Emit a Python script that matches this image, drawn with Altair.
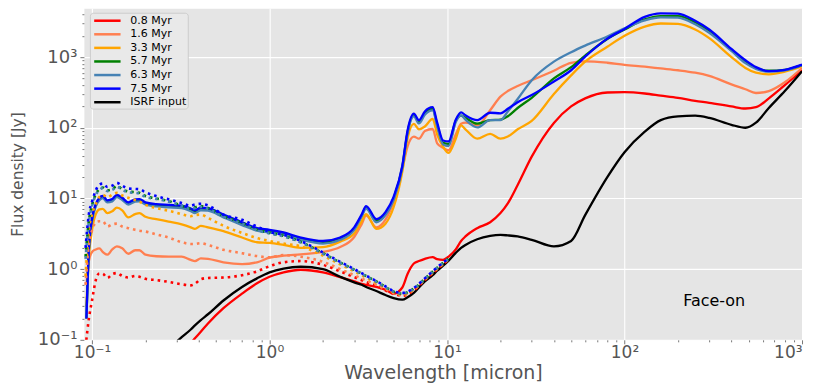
import altair as alt
import pandas as pd

series_names = ["0.8 Myr", "1.6 Myr", "3.3 Myr", "5.7 Myr", "6.3 Myr", "7.5 Myr", "ISRF input"]
series_colors = ["#ff0000", "#ff7f50", "#ffa500", "#008000", "#4682b4", "#0000ff", "#000000"]

# ---- solid curves (common wavelength grid, micron) ----
wavelength = [0.093, 0.096, 0.1, 0.105, 0.11, 0.115, 0.122, 0.13, 0.138, 0.148,
              0.16, 0.175, 0.185, 0.2, 0.23, 0.27, 0.32, 0.36, 0.38, 0.41,
              0.45, 0.55, 0.7, 0.85, 1.0, 1.2, 1.5, 2.0, 2.5, 3.0,
              3.3, 3.5, 4.0, 4.5, 5.0, 5.6, 6.0, 6.5, 6.95, 7.5,
              8.3, 8.8, 9.5, 10.2, 11.2, 12.0, 12.7, 14.8, 17.5, 20,
              22, 25, 30, 40, 50, 60, 80, 100, 130, 160,
              200, 250, 300, 400, 480, 550, 650, 800, 1000]

flux_08 = [None, None, None, None, None, None, None, None, None, None,
           None, None, None, None, None, None, 0.06, 0.09, 0.105, 0.13,
           0.17, 0.28, 0.45, 0.63, 0.78, 0.9, 0.98, 0.9, 0.77, 0.67,
           0.62, 0.6, 0.56, 0.51, 0.45, 0.55, 0.86, 1.2, 1.3, 1.4,
           1.48, 1.38, 1.35, 1.5, 1.9, 2.5, 2.9, 3.8, 4.6, 6.2,
           8.5, 15.5, 39, 117, 200, 260, 315, 318, 305, 285,
           265, 240, 225, 200, 187, 195, 260, 400, 650]

flux_16 = [0.6, 1.3, 1.75, 1.9, 1.97, 1.75, 1.6, 1.9, 2.1, 1.97,
           1.65, 1.85, 1.85, 1.6, 1.52, 1.5, 1.5, 1.35, 1.3, 1.42,
           1.4, 1.25, 1.18, 1.25, 1.45, 1.55, 1.62, 1.75, 2.05, 2.85,
           4.3, 5.7, 3.9, 5.0, 9.0, 26, 55, 75, 70, 90,
           96, 60, 52, 48, 80, 114, 118, 108, 177, 275,
           330, 390, 470, 640, 830, 870, 830, 775, 730, 690,
           650, 600, 540, 410, 350, 310, 330, 440, 700]

flux_33 = [0.3, 1.5, 3.6, 6.0, 7.0, 7.1, 6.2, 6.6, 7.4, 6.8,
           5.4, 6.0, 6.2, 5.5, 5.1, 4.7, 4.3, 3.9, 3.7, 4.1,
           3.9, 3.45, 2.8, 2.4, 2.35, 2.2, 2.0, 2.05, 2.45, 3.2,
           4.7, 6.0, 3.7, 4.4, 7.5, 24, 72, 113, 95, 104,
           133, 80, 54, 44, 70, 108, 95, 70, 82, 70,
           75, 95, 125, 300, 550, 860, 1400, 2000, 2700, 2980,
           2950, 2450, 1850, 1000, 700, 600, 570, 620, 740]

flux_57 = [0.2, 1.9, 5.0, 8.0, 9.8, 10.5, 9.1, 9.5, 10.8, 9.9,
           8.5, 9.4, 9.5, 8.5, 8.0, 7.8, 7.6, 6.9, 6.5, 7.1,
           7.0, 5.7, 4.4, 3.65, 3.45, 3.15, 2.7, 2.4, 2.7, 3.75,
           5.65, 7.5, 4.85, 6.1, 10.0, 28, 88, 152, 120, 162,
           185, 110, 61, 59, 125, 148, 138, 114, 128, 130,
           145, 190, 265, 500, 720, 1050, 1800, 2450, 3400, 3800,
           3800, 3100, 2300, 1250, 850, 700, 640, 660, 770]

flux_63 = [0.2, 1.8, 4.8, 7.7, 9.4, 10.1, 8.8, 9.1, 10.4, 9.5,
           8.2, 9.0, 9.1, 8.2, 7.7, 7.5, 7.3, 6.6, 6.2, 6.8,
           6.7, 5.4, 4.2, 3.5, 3.3, 3.05, 2.6, 2.3, 2.6, 3.6,
           5.5, 7.2, 4.6, 5.8, 9.5, 27, 85, 145, 115, 153,
           176, 105, 58, 55, 120, 150, 130, 101, 128, 128,
           170, 255, 470, 860, 1170, 1450, 1950, 2550, 3300, 3650,
           3600, 2900, 2200, 1220, 820, 680, 620, 650, 770]

flux_75 = [0.2, 2.0, 5.2, 8.3, 10.2, 10.9, 9.4, 9.8, 11.2, 10.2,
           8.8, 9.7, 9.8, 8.8, 8.3, 8.1, 7.9, 7.2, 6.8, 7.4,
           7.3, 5.9, 4.6, 3.8, 3.6, 3.3, 2.8, 2.5, 2.8, 3.9,
           5.9, 7.8, 5.1, 6.4, 10.5, 29, 93, 158, 128, 170,
           195, 118, 66, 64, 130, 165, 150, 128, 163, 160,
           185, 230, 290, 450, 650, 1010, 1820, 2500, 3700, 4150,
           4100, 3250, 2450, 1300, 900, 720, 630, 660, 780]

flux_isrf = [None, None, None, None, None, None, None, None, None, None,
             None, None, None, None, None, 0.074, 0.109, 0.14, 0.16, 0.19,
             0.23, 0.36, 0.56, 0.74, 0.9, 1.02, 1.08, 1.0, 0.78, 0.65,
             0.6, 0.56, 0.49, 0.43, 0.39, 0.37, 0.4, 0.46, 0.55, 0.67,
             0.82, 0.95, 1.12, 1.32, 1.7, 2.0, 2.2, 2.65, 2.95, 3.05,
             3.0, 2.9, 2.6, 2.1, 2.5, 5.8, 20, 45, 88, 128,
             145, 148, 138, 110, 100, 118, 190, 330, 630]

# ---- dotted curves (short wavelengths) ----
wavelength_dotted = [0.092, 0.096, 0.1, 0.105, 0.11, 0.115, 0.122, 0.13, 0.138, 0.148,
                     0.16, 0.175, 0.185, 0.2, 0.23, 0.27, 0.32, 0.36, 0.38, 0.41,
                     0.45, 0.55, 0.7, 0.85, 1.0, 1.2, 1.5, 2.0, 2.5, 3.0,
                     3.5, 4.0, 4.5, 5.0, 5.6, 6.5, 7.5, 8.8, 10.2]

dotted_08 = [0.08, 0.2, 0.36, 0.7, 0.87, 0.86, 0.75, 0.85, 0.88, 0.8,
             0.76, 0.8, 0.78, 0.73, 0.7, 0.66, 0.61, 0.59, 0.62, 0.72,
             0.75, 0.76, 0.82, 0.93, 1.1, 1.25, 1.3, 1.15, 0.93, 0.77,
             0.66, 0.58, 0.5, 0.45, 0.42, 0.5, 0.7, 0.99, 1.36]

dotted_16 = [0.6, 2.3, 3.5, 4.6, 4.75, 4.75, 4.0, 4.3, 4.4, 4.0,
             3.8, 3.6, 3.5, 3.4, 3.1, 2.8, 2.4, 2.27, 2.27, 2.33,
             2.2, 1.88, 1.68, 1.53, 1.47, 1.58, 1.5, 1.27, 1.0, 0.82,
             0.69, 0.6, 0.52, 0.46, 0.43, 0.51, 0.71, 1.0, 1.37]

dotted_33 = [0.8, 3.5, 6.0, 8.3, 10.5, 11.2, 10.4, 11.3, 12.0, 11.0,
             10.2, 9.5, 9.0, 8.1, 7.3, 6.7, 6.0, 5.6, 5.8, 5.9,
             5.3, 4.1, 3.25, 2.75, 2.5, 2.3, 2.1, 1.55, 1.17, 0.93,
             0.76, 0.64, 0.54, 0.47, 0.44, 0.52, 0.72, 1.02, 1.39]

dotted_57 = [1.5, 4.8, 8.0, 11.5, 13.5, 14.3, 13.0, 13.5, 15.0, 13.6,
             12.5, 12.3, 12.0, 10.8, 10.0, 9.2, 7.9, 7.2, 7.5, 7.8,
             7.3, 5.6, 4.5, 3.6, 3.25, 2.95, 2.42, 1.68, 1.24, 0.98,
             0.8, 0.67, 0.56, 0.48, 0.45, 0.53, 0.73, 1.05, 1.41]

dotted_63 = [1.4, 4.6, 7.8, 11.2, 13.2, 14.0, 12.7, 13.2, 14.6, 13.3,
             12.2, 12.0, 11.7, 10.5, 9.8, 9.0, 7.8, 7.1, 7.3, 7.6,
             7.1, 5.5, 4.4, 3.55, 3.2, 2.9, 2.38, 1.65, 1.22, 0.97,
             0.79, 0.66, 0.55, 0.48, 0.45, 0.53, 0.73, 1.04, 1.4]

dotted_75 = [2.0, 6.0, 9.0, 13.0, 15.7, 16.2, 14.5, 15.2, 16.6, 15.1,
             13.8, 13.6, 13.5, 12.2, 10.8, 9.7, 8.6, 7.9, 8.2, 8.4,
             8.0, 5.9, 5.0, 4.0, 3.35, 3.05, 2.5, 1.72, 1.27, 1.0,
             0.81, 0.68, 0.57, 0.49, 0.46, 0.54, 0.74, 1.06, 1.42]

annotation = "Face-on"
annotation_pos = (320, 0.35)

x_ticks = [m * 10.0 ** e for e in range(-1, 3) for m in range(1, 10)] + [1000]
y_ticks = [m * 10.0 ** e for e in range(-1, 3) for m in range(1, 10)] + [1000, 2000, 3000, 4000]

# ---- build tables ----
solid_rows = []
for name, vals in zip(series_names, [flux_08, flux_16, flux_33, flux_57, flux_63, flux_75, flux_isrf]):
    for w, f in zip(wavelength, vals):
        if f is not None:
            solid_rows.append({"wavelength": w, "flux": f, "series": name})
solid_df = pd.DataFrame(solid_rows)

dotted_rows = []
for name, vals in zip(series_names[:6], [dotted_08, dotted_16, dotted_33, dotted_57, dotted_63, dotted_75]):
    for w, f in zip(wavelength_dotted, vals):
        dotted_rows.append({"wavelength": w, "flux": f, "series": name})
dotted_df = pd.DataFrame(dotted_rows)

text_df = pd.DataFrame([{"wavelength": annotation_pos[0], "flux": annotation_pos[1], "label": annotation}])

decade = "abs(log(datum.value)/LN10 - round(log(datum.value)/LN10)) < 0.001"
sup = ("datum.value < 0.5 ? '10\u207b\u00b9' : datum.value < 5 ? '10\u2070' : "
       "datum.value < 50 ? '10\u00b9' : datum.value < 500 ? '10\u00b2' : '10\u00b3'")
label_expr = f"({decade}) ? ({sup}) : ''"

common_axis = dict(
    labelExpr=label_expr,
    labelOverlap=False,
    labelFont="DejaVu Sans",
    labelColor="#555555",
    titleFont="DejaVu Sans",
    titleColor="#555555",
    titleFontWeight="normal",
    domain=False,
    tickColor="#555555",
    tickWidth=0.8,
    tickSize={"condition": {"test": decade, "value": 4}, "value": 2},
    gridColor="white",
    gridWidth=1.1,
    gridOpacity={"condition": {"test": decade, "value": 1}, "value": 0},
)

x_enc = alt.X("wavelength:Q",
              scale=alt.Scale(type="log", domain=[0.09, 1000], nice=False),
              axis=alt.Axis(values=x_ticks, title="Wavelength [micron]",
                            labelFontSize=17, titleFontSize=19,
                            titlePadding=3, labelPadding=1, **common_axis))
y_enc = alt.Y("flux:Q",
              scale=alt.Scale(type="log", domain=[0.1, 4900], nice=False),
              axis=alt.Axis(values=y_ticks, title="Flux density [Jy]",
                            labelFontSize=18, titleFontSize=15.5,
                            titlePadding=12, labelPadding=3, **common_axis))
color_scale = alt.Scale(domain=series_names, range=series_colors)

legend = alt.Legend(title=None, orient="none", legendX=6, legendY=4.5,
                    symbolType="M-2.4,0H2.4", symbolSize=121,
                    symbolStrokeWidth=2.5, symbolOffset=9.5,
                    labelOffset=16, labelFont="DejaVu Sans",
                    labelFontSize=11, labelColor="black",
                    padding=1, rowPadding=1.6,
                    fillColor="#E9E9E9", strokeColor="#CCCCCC",
                    cornerRadius=3)
color_enc = alt.Color("series:N", scale=color_scale, sort=series_names, legend=legend)

solid = alt.Chart(solid_df).mark_line(
    strokeWidth=2.3, interpolate="monotone", clip=True
).encode(x=x_enc, y=y_enc, color=color_enc)

dotted = alt.Chart(dotted_df).mark_line(
    strokeWidth=2.6, strokeDash=[2.6, 4], interpolate="monotone", clip=True
).encode(x=x_enc, y=y_enc, color=color_enc)

text = alt.Chart(text_df).mark_text(
    font="DejaVu Sans", fontSize=16, color="black", align="center", baseline="middle"
).encode(x=x_enc, y=y_enc, text="label:N")

chart = alt.layer(solid, dotted, text).properties(
    width=719, height=332,
    padding={"left": 76, "top": 0, "right": 20, "bottom": 48},
    autosize=alt.AutoSizeParams(type="none"),
).configure_view(fill="#E5E5E5", stroke="transparent")

chart.save("out.html", embed_options={"renderer": "svg", "actions": False})
